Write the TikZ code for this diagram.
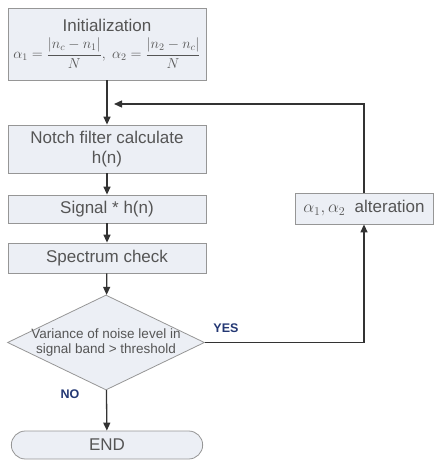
\documentclass[tikz,border=0pt]{standalone}
\usepackage{amsmath}
\usepackage{fontspec}
\setmainfont{Liberation Sans}
\usetikzlibrary{arrows.meta,shapes.geometric,shapes.misc}
\definecolor{boxfill}{RGB}{236,239,245}
\definecolor{boxline}{RGB}{150,150,150}
\definecolor{txtgray}{RGB}{85,85,85}
\definecolor{labblue}{RGB}{35,55,115}

\begin{document}
\begin{tikzpicture}[x=1pt,y=-1pt,>={Triangle[length=8pt,width=7pt]},
  procbox/.style={draw=boxline,fill=boxfill,line width=0.8pt,text=txtgray,
    font=\fontsize{17}{20}\selectfont,minimum width=198pt,align=center,inner sep=2pt},
  decbox/.style={diamond,draw=boxline,fill=boxfill,line width=0.8pt,text=txtgray,
    font=\fontsize{13.5}{15}\selectfont,align=center,inner sep=-6pt,shape aspect=2.07,
    minimum width=197pt,minimum height=95pt},
  endbox/.style={rounded rectangle,draw=boxline,fill=boxfill,line width=0.8pt,text=txtgray,
    font=\fontsize{17}{20}\selectfont,minimum width=198pt,minimum height=28pt},
  ynlabel/.style={text=labblue,font=\fontsize{12.5}{14}\selectfont\bfseries},
  flow/.style={->,draw=black!80,line width=1.3pt}]
\useasboundingbox (0,0) rectangle (440,460);
\node[procbox,minimum height=72pt] (init) at (107,44)
  {Initialization\\[5pt] \fontsize{14}{17}\selectfont
   $\alpha_1=\dfrac{|n_c-n_1|}{N},\ \alpha_2=\dfrac{|n_2-n_c|}{N}$};
\node[procbox,minimum height=48pt] (notch) at (107,149) {Notch filter calculate\\h(n)};
\node[procbox,minimum height=28pt] (conv) at (107,209) {Signal * h(n)};
\node[procbox,minimum height=30pt] (spec) at (107,258) {Spectrum check};
\node[decbox] (check) at (106,342.5) {Variance of noise level in\\signal band > threshold};
\node[endbox] (end) at (107,445) {END};
\node[procbox,minimum width=138pt,minimum height=31pt] (alter) at (364,208.5)
  {$\alpha_1,\alpha_2$\ \ alteration};
\coordinate (join) at (114,104);
\node[ynlabel] (yes) at (226,328) {YES};
\node[ynlabel] (no) at (70,394) {NO};
\draw[flow] (init) -- (notch);
\draw[flow] (notch) -- (conv);
\draw[flow] (conv) -- (spec);
\draw[flow] (spec) -- (check);
\draw[flow] (check) -- (end);
\draw[flow] (check.east) -| (alter.south);
\draw[flow] (alter.north) |- (join);
\end{tikzpicture}
\end{document}
